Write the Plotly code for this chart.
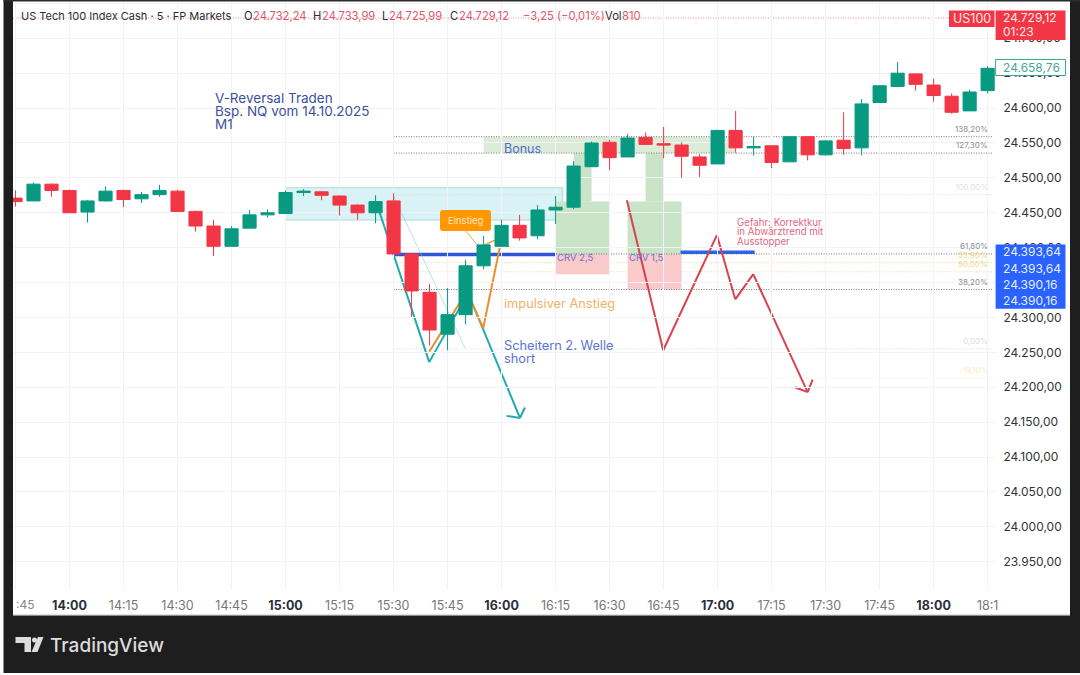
import pandas as pd
import plotly.graph_objects as go

# ---------- data ----------
opens = [24471,24467,24491,24482,24451,24467,24482,24470,24476,24481,
         24452,24431,24402,24428,24447,24449,24479,24480,24474,24461,
         24450,24467,24391,24336,24276,24304,24374,24402,24432,24417,
         24454,24458,24516,24551,24530,24558,24549,24547,24530,24520,
         24568,24543,24546,24523,24559,24533,24554,24543,24608,24631,
         24649,24633,24617,24596,24625]
highs = [24482,24493,24492,24483,24468,24488,24483,24480,24490,24483,
         24453,24440,24431,24454,24455,24482,24484,24481,24475,24462,
         24475,24478,24392,24348,24342,24383,24417,24440,24447,24461,
         24474,24524,24552,24555,24563,24565,24573,24551,24534,24569,
         24596,24559,24547,24559,24559,24554,24594,24613,24633,24666,
         24650,24642,24621,24626,24660]
lows = [24459,24467,24473,24450,24436,24466,24458,24464,24473,24452,
        24423,24388,24402,24428,24443,24449,24474,24468,24446,24440,
        24435,24391,24301,24260,24253,24290,24369,24402,24410,24412,
        24434,24455,24516,24511,24530,24548,24528,24500,24501,24520,
        24536,24532,24514,24523,24525,24532,24533,24532,24608,24630,
        24625,24609,24592,24596,24621]
closes = [24466,24491,24482,24450,24467,24481,24469,24476,24482,24452,
          24431,24402,24427,24447,24450,24479,24481,24475,24461,24450,
          24466,24391,24338,24282,24304,24374,24404,24432,24414,24454,
          24458,24517,24550,24529,24557,24548,24547,24531,24518,24568,
          24543,24545,24522,24559,24533,24553,24542,24606,24632,24650,
          24634,24618,24594,24623,24657]

price_ticks = [24750,24700,24650,24600,24550,24500,24450,24400,24350,24300,
               24250,24200,24150,24100,24050,24000,23950]
price_labels = ["24.750,00","24.700,00","24.650,00","24.600,00","24.550,00","24.500,00",
                "24.450,00","24.400,00","24.350,00","24.300,00","24.250,00","24.200,00",
                "24.150,00","24.100,00","24.050,00","24.000,00","23.950,00"]
time_ticks = ["13:45","14:00","14:15","14:30","14:45","15:00","15:15","15:30","15:45",
              "16:00","16:15","16:30","16:45","17:00","17:15","17:30","17:45","18:00","18:15"]
time_names = ["","14:00","14:15","14:30","14:45","15:00","15:15","15:30","15:45",
              "16:00","16:15","16:30","16:45","17:00","17:15","17:30","17:45","18:00","18:1"]

# drawings: minutes after 14:00 and price
teal_m = [85.9, 99.9, 110.7, 125.1]
teal_p = [24454, 24236, 24335, 24156]
teal_head_m = [121.4, 125.1, 126.5]
teal_head_p = [24159, 24156, 24171]
thin_m = [89.9, 109.9]
thin_p = [24475, 24256]
orange_m = [99.9, 110.3, 114.9, 119.8, 122.2]
orange_p = [24251, 24337, 24285, 24408, 24400]
red_m = [154.8, 164.9, 179.8, 184.9, 189.9, 205.0]
red_p = [24468, 24253, 24418, 24326, 24362, 24193]
red_head_m = [201.5, 205.0, 206.4]
red_head_p = [24200, 24193, 24211]
fib_levels = [24559, 24535.5, 24476, 24391, 24378.5, 24365.5, 24340, 24255, 24213]
fib_texts = ["138,20%","127,30%","100,00%","61,80%","55,90%","50,00%","38,20%","0,00%","-19,10%"]
fib_colors = ["#777","#777","#dcdcdc","#777","#f2d99a","#f2d99a","#777","#dcdcdc","#f9efcf"]
fib_text_colors = ["#8c8c8c","#8c8c8c","#e2e2e2","#8c8c8c","#f1d48c","#f1d48c","#8c8c8c","#dedede","#f8edc8"]

W, H = 1080, 675
FONT = "Inter"
DOTS = "1px,1.5px"
BASE = pd.Timestamp("2025-10-14 14:00")
def T(m):
    return BASE + pd.Timedelta(minutes=m)
def clock(s):
    return f"2025-10-14 {s}"
def X(x):
    return x / W
def Y(y):
    return 1 - y / H

times = pd.date_range("2025-10-14 13:45", periods=len(opens), freq="5min")
time_labels = [f"<span style='color:#2a2e39'><b>{s}</b></span>" if s.endswith(":00") else s for s in time_names]

fig = go.Figure(go.Candlestick(
    x=times, open=opens, high=highs, low=lows, close=closes,
    increasing=dict(line=dict(color="#089981", width=1), fillcolor="#089981"),
    decreasing=dict(line=dict(color="#f23645", width=1), fillcolor="#f23645"),
    whiskerwidth=0, hoverinfo="skip", showlegend=False,
))

shapes = []
def rect(m0, m1, p0, p1, fill, line=None):
    shapes.append(dict(type="rect", layer="below", xref="x", yref="y",
                       x0=T(m0), x1=T(m1), y0=p0, y1=p1, fillcolor=fill,
                       line=dict(width=1 if line else 0, color=line or "rgba(0,0,0,0)")))
def poly(ms, ps, color, width):
    for i in range(len(ms) - 1):
        shapes.append(dict(type="line", layer="below", xref="x", yref="y",
                           x0=T(ms[i]), x1=T(ms[i + 1]), y0=ps[i], y1=ps[i + 1],
                           line=dict(color=color, width=width)))
def chrome(x0, y0, x1, y1, fill, layer="above", line=None):
    shapes.append(dict(type="rect", layer=layer, xref="paper", yref="paper",
                       x0=X(x0), x1=X(x1), y0=Y(y0), y1=Y(y1), fillcolor=fill,
                       line=dict(width=1 if line else 0, color=line or "rgba(0,0,0,0)")))

# zones
rect(60, 137, 24439.5, 24486, "rgba(178,230,236,0.5)", "rgba(150,210,190,0.7)")
rect(115, 184.7, 24535.5, 24559, "#dcecd8")
rect(140, 145, 24466, 24535.5, "#c9e4c6")
rect(135, 150, 24391, 24466, "#c9e4c6")
rect(135, 150, 24362, 24391, "#f9c9cc")
rect(160, 165, 24466, 24535.5, "#c9e4c6")
rect(155, 170, 24391, 24466, "#c9e4c6")
rect(155, 170, 24340, 24391, "#f9c9cc")

# fib levels
for lv, c in zip(fib_levels, fib_colors):
    shapes.append(dict(type="line", layer="below", xref="x", yref="y",
                       x0=T(90), x1=T(256.5), y0=lv, y1=lv,
                       line=dict(color=c, width=1, dash=DOTS)))
# last-price line
shapes.append(dict(type="line", layer="below", xref="paper", yref="y",
                   x0=X(13), x1=X(949), y0=24729, y1=24729,
                   line=dict(color="#ee8d95", width=1, dash=DOTS)))

# blue lines
poly([90, 135], [24390.2, 24390.2], "#2f55d4", 3.5)
poly([169.7, 190.3], [24393.6, 24393.6], "#2f62e0", 3.5)

# drawn paths
poly(thin_m, thin_p, "rgba(120,205,205,0.55)", 1)
poly(teal_m, teal_p, "#22a9b0", 2)
poly(teal_head_m, teal_head_p, "#22a9b0", 2)
poly(orange_m, orange_p, "#ea8f2e", 2)
poly([109.9, 114], [24425, 24399], "#efa54a", 1)
poly([113.3, 118.2], [24399, 24411], "#efa54a", 1.5)
poly(red_m, red_p, "#d9424f", 2)
poly(red_head_m, red_head_p, "#d9424f", 2)

# outer frame
chrome(3.5, 616, 1080, 673, "#1e1e1e")
chrome(3.5, 0, 13, 616, "#1e1e1e")
chrome(1070, 0, 1080, 616, "#1e1e1e")
chrome(3.5, 0, 1080, 1.5, "#2a2a2a")
chrome(13, 614.8, 1070, 616, "#8c8c8c")

# price tags
chrome(949, 10.5, 994.5, 27, "#f23645")
chrome(995.6, 10.5, 1065.5, 40, "#f23645")
chrome(995.6, 59.5, 1065.5, 75.5, "#ffffff", line="#3aa88f")
chrome(995.6, 244.5, 1065.5, 308.7, "#2962ff")

# rounded Einstieg label
x0, x1, y0, y1, r = X(440), X(491), Y(210), Y(231), 3
rx, ry = r / W, r / H
shapes.append(dict(type="path", layer="above", xref="paper", yref="paper",
                   path=f"M {x0+rx} {y0} L {x1-rx} {y0} Q {x1} {y0} {x1} {y0-ry} L {x1} {y1+ry} "
                        f"Q {x1} {y1} {x1-rx} {y1} L {x0+rx} {y1} Q {x0} {y1} {x0} {y1+ry} "
                        f"L {x0} {y0-ry} Q {x0} {y0} {x0+rx} {y0} Z",
                   fillcolor="#ff9800", line=dict(width=0)))

# TradingView logo
LOGO = "#dcdcdc"
chrome(15.5, 637, 31, 643, LOGO)
chrome(24.5, 637, 31, 652, LOGO)
shapes.append(dict(type="circle", layer="above", xref="paper", yref="paper",
                   x0=X(32), x1=X(37), y0=Y(642.5), y1=Y(637.5), fillcolor=LOGO, line=dict(width=0)))
shapes.append(dict(type="path", layer="above", xref="paper", yref="paper",
                   path=f"M {X(38)} {Y(637)} L {X(43.5)} {Y(637)} L {X(37.5)} {Y(652)} L {X(31.5)} {Y(652)} Z",
                   fillcolor=LOGO, line=dict(width=0)))

ann = []
def txt(s, x, y, color, size, anchor="left", weight=None):
    font = dict(color=color, size=size, family=FONT)
    if weight:
        font["weight"] = weight
    ann.append(dict(text=s, xref="paper", yref="paper", x=X(x - (2 if anchor == "left" else 0)), y=Y(y),
                    xanchor=anchor, yanchor="middle", showarrow=False, align=anchor, font=font))

# header
DARK, RED = "#2a2e39", "#e0596a"
txt("US Tech 100 Index Cash · 5 · FP Markets", 20.5, 16, DARK, 11)
for s, x, c in [("O", 244, DARK), ("24.732,24", 253, RED), ("H", 313, DARK), ("24.733,99", 321.5, RED),
                ("L", 382, DARK), ("24.725,99", 389, RED), ("C", 450, DARK), ("24.729,12", 458.5, RED),
                ("−3,25 (−0,01%)", 523, RED), ("Vol", 605, DARK), ("810", 622, RED)]:
    txt(s, x, 16, c, 11.2)

# chart notes
BLUE = "#3b509c"
txt("V-Reversal Traden", 215, 98, BLUE, 13.5)
txt("Bsp. NQ vom 14.10.2025", 215, 111, BLUE, 13.5)
txt("M1", 215, 124.5, BLUE, 13.5)
txt("Bonus", 504, 148, "#4a6fc8", 12.5)
txt("impulsiver Anstieg", 504, 304, "#efb265", 12.8)
txt("Scheitern 2. Welle", 504, 345, "#5d74d6", 12.8)
txt("short", 504, 359, "#5d74d6", 12.8)
txt("CRV 2,5", 557, 257, "#6a70d0", 9.5)
txt("CRV 1,5", 629, 257, "#6a70d0", 9.5)
txt("Gefahr: Korrektkur", 737, 222, "#e2677f", 9.7)
txt("in Abwärztrend mit", 737, 232, "#e2677f", 9.7)
txt("Ausstopper", 737, 241, "#e2677f", 9.7)
txt("Einstieg", 465.5, 220.5, "#ffe7c4", 9.5, anchor="center")

# fib labels
for lv, s, c in zip(fib_levels, fib_texts, fib_text_colors):
    ann.append(dict(text=s, xref="paper", yref="y", x=X(990), y=lv, yshift=8, xanchor="right",
                    yanchor="middle", showarrow=False,
                    font=dict(color=c, size=8, family=FONT)))

# tag text
TAG = "#ffe9ea"
txt("US100", 971.7, 18.5, TAG, 12.5, anchor="center")
txt("24.729,12", 1003, 18, TAG, 12)
txt("01:23", 1003, 31.5, TAG, 12)
txt("24.658,76", 1003, 67.5, "#4aa898", 12)
for s, yy in [("24.393,64", 252), ("24.393,64", 268), ("24.390,16", 284), ("24.390,16", 300)]:
    txt(s, 1003, yy, "#e6edff", 12)

# clipped leftmost time label and wordmark
txt(":45", 16, 604.5, "#888888", 12)
txt("TradingView", 50, 645, "#dcdcdc", 19, weight=500)

fig.update_layout(
    width=W, height=H, autosize=False,
    margin=dict(l=0, r=0, t=0, b=0),
    paper_bgcolor="#ffffff", plot_bgcolor="#ffffff",
    showlegend=False, boxgap=0.27, boxgroupgap=0, hovermode=False,
    shapes=shapes, annotations=ann,
    font=dict(family=FONT),
    xaxis=dict(
        domain=[X(13), X(997)], type="date",
        range=[T(-15.7), T(257.6)],
        rangeslider=dict(visible=False),
        tickmode="array", tickvals=[clock(s) for s in time_ticks], ticktext=time_labels,
        showgrid=True, gridcolor="#f1f3f6", gridwidth=1, zeroline=False, showline=False,
        ticks="outside", ticklen=4, tickcolor="rgba(0,0,0,0)",
        tickfont=dict(size=12.5, color="#777777"),
    ),
    yaxis=dict(
        domain=[Y(590), Y(2)], side="right", range=[23909.5, 24752],
        tickmode="array", tickvals=price_ticks, ticktext=price_labels,
        showgrid=True, gridcolor="#f1f3f6", gridwidth=1, zeroline=False, showline=False,
        ticks="outside", ticklen=3, tickcolor="rgba(0,0,0,0)",
        tickfont=dict(size=12, color="#333333"),
    ),
)

fig.write_html("out.html", config=dict(displayModeBar=False),
               post_script="document.body.style.margin='0';document.body.style.overflow='hidden';")
